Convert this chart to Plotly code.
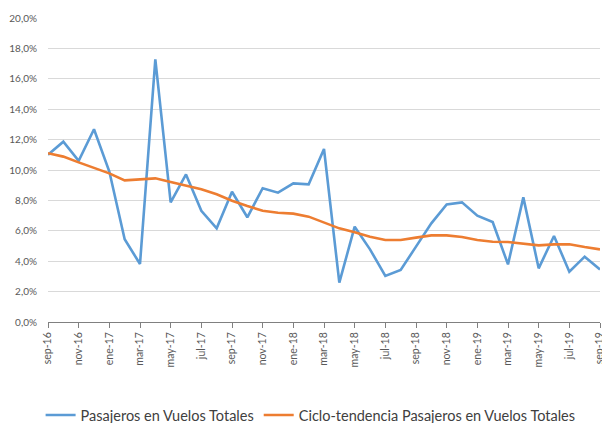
import plotly.graph_objects as go

months = ["sep-16","oct-16","nov-16","dic-16","ene-17","feb-17","mar-17","abr-17","may-17","jun-17",
          "jul-17","ago-17","sep-17","oct-17","nov-17","dic-17","ene-18","feb-18","mar-18","abr-18",
          "may-18","jun-18","jul-18","ago-18","sep-18","oct-18","nov-18","dic-18","ene-19","feb-19",
          "mar-19","abr-19","may-19","jun-19","jul-19","ago-19","sep-19"]

pasajeros = [11.0, 11.86, 10.6, 12.68, 9.9, 5.44, 3.82, 17.28, 7.87, 9.71,
             7.32, 6.16, 8.57, 6.89, 8.80, 8.51, 9.12, 9.06, 11.38, 2.59,
             6.27, 4.78, 3.03, 3.42, 4.96, 6.49, 7.74, 7.87, 6.99, 6.58,
             3.79, 8.20, 3.53, 5.66, 3.31, 4.30, 3.46]

tendencia = [11.1, 10.88, 10.5, 10.15, 9.78, 9.32, 9.39, 9.45, 9.21, 8.99,
             8.73, 8.40, 7.98, 7.63, 7.32, 7.19, 7.13, 6.93, 6.53, 6.16,
             5.90, 5.61, 5.39, 5.39, 5.55, 5.70, 5.70, 5.59, 5.39, 5.28,
             5.26, 5.15, 5.04, 5.11, 5.11, 4.93, 4.78]

y_ticks = [0, 2, 4, 6, 8, 10, 12, 14, 16, 18, 20]
y_labels = [f"{v:.1f}%".replace(".", ",") for v in y_ticks]

x = list(range(len(months)))
x_tickvals = x[::2]
x_ticktext = months[::2]

fig = go.Figure()
fig.add_trace(go.Scatter(x=x, y=pasajeros, mode="lines", name="Pasajeros en Vuelos Totales",
                         line=dict(color="#5B9BD5", width=2.6)))
fig.add_trace(go.Scatter(x=x, y=tendencia, mode="lines", name="Ciclo-tendencia Pasajeros en Vuelos Totales",
                         line=dict(color="#ED7D31", width=2.6)))

fig.update_layout(
    width=602, height=423,
    margin=dict(l=48, r=2, t=18, b=101, autoexpand=False),
    paper_bgcolor="white", plot_bgcolor="white",
    font=dict(family="Lato, Arial, sans-serif", color="#595959"),
    showlegend=True,
    legend=dict(orientation="h", x=-0.0134, xanchor="left", y=-0.306, yanchor="middle",
                font=dict(size=14.5, color="#404040"),
                itemwidth=30, tracegroupgap=0),
    xaxis=dict(range=[0, 36], tickmode="array", tickvals=x_tickvals, ticktext=x_ticktext,
               tickangle=-90, tickfont=dict(size=10.5, color="#595959"), automargin=False,
               ticklabeloverflow="allow",
               showgrid=False, zeroline=False, showline=True, linecolor="#808080", linewidth=1,
               ticks="outside", ticklen=5, tickcolor="#808080"),
    yaxis=dict(range=[0, 20], tickmode="array", tickvals=y_ticks, ticktext=y_labels, automargin=False,
               tickfont=dict(size=10, color="#595959"), showgrid=True, gridcolor="#d9d9d9",
               gridwidth=1, zeroline=False, showline=False, ticks="", ticklabelstandoff=10),
)

# remove the browser's default page margin so the figure fills the window exactly
page_fix = "document.body.style.margin='0';document.documentElement.style.overflow='hidden';"

fig.write_html("out.html", post_script=page_fix, config={"displayModeBar": False})
